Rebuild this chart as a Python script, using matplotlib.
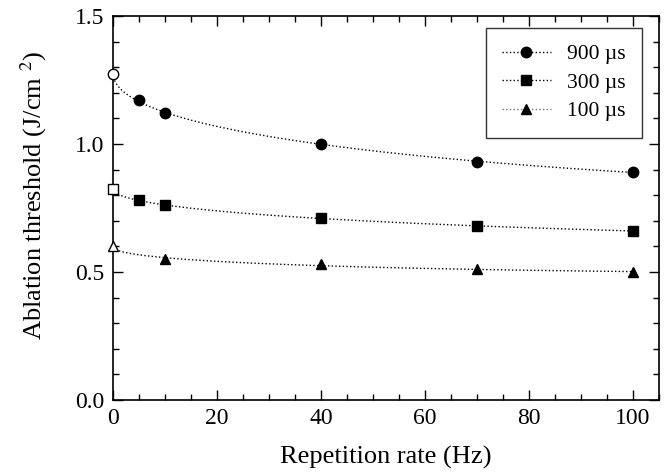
import numpy as np
import matplotlib.pyplot as plt
from matplotlib.ticker import MultipleLocator

plt.rcParams['font.family'] = ['Liberation Serif', 'DejaVu Serif']
plt.rcParams['mathtext.fontset'] = 'stix'

# repetition rate (Hz) and ablation threshold (J/cm^2)
rate_900 = [0, 5, 10, 40, 70, 100]
thr_900 = [1.275, 1.17, 1.12, 1.00, 0.93, 0.89]
rate_300 = [0, 5, 10, 40, 70, 100]
thr_300 = [0.825, 0.78, 0.76, 0.71, 0.68, 0.66]
rate_100 = [0, 10, 40, 70, 100]
thr_100 = [0.60, 0.55, 0.53, 0.51, 0.50]

labels = ["900 \u00b5s", "300 \u00b5s", "100 \u00b5s"]
markers = ['o', 's', '^']
colors = ['black', 'black', '0.45']

fig = plt.figure(figsize=(6.64, 4.73), dpi=100)
ax = fig.add_axes([0.1702, 0.1543, 0.8223, 0.812])

xs = np.linspace(0, 100, 300)
for rate, thr, m in zip([rate_900, rate_300, rate_100],
                        [thr_900, thr_300, thr_100], markers):
    rate = np.array(rate, float)
    thr = np.array(thr, float)
    # smooth fit through the points, quadratic in sqrt(rate)
    p = np.polyfit(np.sqrt(rate), thr, 2)
    ax.plot(xs, np.polyval(p, np.sqrt(xs)), ':', color='black', lw=1.0,
            zorder=2)
    # rate 0 points are extrapolated -> open markers
    ax.plot(rate[:1], thr[:1], m, ms=7.5, mfc='white', mec='black', mew=1.0,
            clip_on=False, zorder=3)
    ax.plot(rate[1:], thr[1:], m, ms=7.5, color='black', zorder=3)

# legend handles
for lab, m, c in zip(labels, markers, colors):
    ax.plot([], [], ':', color=c, lw=1.0, marker=m, ms=7.5, mfc='black',
            mec='black', label=lab)

leg = ax.legend(loc='upper right', fontsize=15.5, frameon=True, fancybox=False,
                edgecolor='black', borderpad=0.75, labelspacing=0.4,
                handlelength=2.3, handletextpad=0.75, borderaxespad=0,
                bbox_to_anchor=(0.969, 0.969))
leg.get_frame().set_linewidth(1.0)

ax.set_xlim(0, 105)
ax.set_ylim(0, 1.5)
ax.xaxis.set_major_locator(MultipleLocator(20))
ax.xaxis.set_minor_locator(MultipleLocator(5))
ax.yaxis.set_major_locator(MultipleLocator(0.5))
ax.yaxis.set_minor_locator(MultipleLocator(0.1))
ax.yaxis.set_major_formatter(plt.FormatStrFormatter('%.1f'))
ax.tick_params(which='both', direction='in', top=True, right=True,
               labelsize=17, width=1.0)
ax.tick_params(which='major', length=7, pad=6)
ax.tick_params(which='minor', length=4)
for s in ax.spines.values():
    s.set_linewidth(1.2)

ax.set_xlabel("Repetition rate (Hz)", fontsize=19, labelpad=12)
ax.set_ylabel("Ablation threshold (J/cm $^{2}$)", fontsize=19)
ax.yaxis.set_label_coords(-0.145, 0.534)
ax.yaxis.label.set_va('center')

fig.savefig("out.png", dpi=100)
